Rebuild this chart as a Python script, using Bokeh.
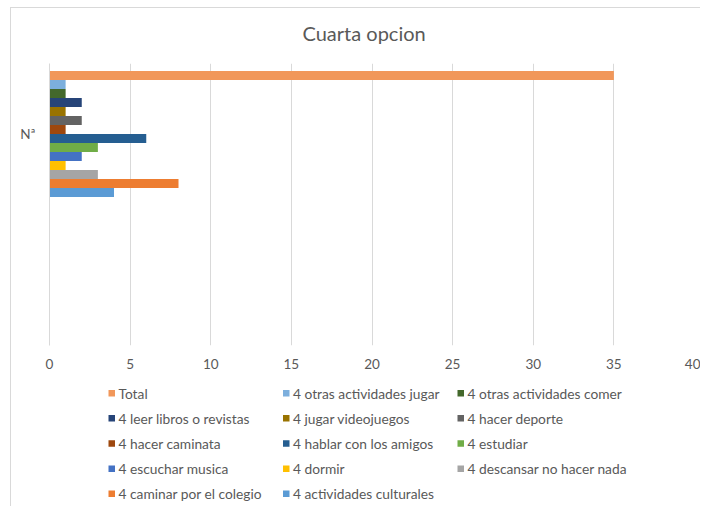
from bokeh.plotting import figure
from bokeh.layouts import column
from bokeh.models import (ColumnDataSource, FixedTicker, Range1d, Title)
from bokeh.core.properties import value
from bokeh.embed import file_html
from bokeh.resources import INLINE

# ---- data ----
series = ["Total", "4 otras actividades jugar", "4 otras actividades comer",
          "4 leer libros o revistas", "4 jugar videojuegos", "4 hacer deporte",
          "4 hacer caminata", "4 hablar con los amigos", "4 estudiar",
          "4 escuchar musica", "4 dormir", "4 descansar no hacer nada",
          "4 caminar por el colegio", "4 actividades culturales"]
values = [35, 1, 1, 2, 1, 2, 1, 6, 3, 2, 1, 3, 8, 4]
colors = ["#F1975A", "#7CAFDD", "#43682B", "#264478", "#997300", "#636363",
          "#9E480E", "#255E91", "#70AD47", "#4472C4", "#FFC000", "#A5A5A5",
          "#ED7D31", "#5B9BD5"]
category = "Nª"
x_ticks = [0, 5, 10, 15, 20, 25, 30, 35, 40]

FONT = "Lato"
TXT = "#595959"
GRID = "#D9D9D9"

W = 689
BL, BR = 38, 6            # left / right borders around the plot frame
n = len(series)
cat_center = 1.5          # first of two category bands (second one empty)
band_fill = 0.894         # share of the band covered by the bars
bh = band_fill / n
y_pos = [cat_center + band_fill / 2 - (i + 0.5) * bh for i in range(n)]

p = figure(width=W, height=367, output_backend="svg", toolbar_location=None,
           x_range=Range1d(0, 40), y_range=Range1d(0, 2),
           min_border_left=BL, min_border_right=BR, min_border_top=55,
           min_border_bottom=30)
p.outline_line_color = None
p.background_fill_color = "white"
p.border_fill_color = "white"

# spacer between the title and the plot frame
p.add_layout(Title(text=" ", text_font_size="1px", standoff=16), "above")
title = Title(text="Cuarta opcion", align="left", offset=253, text_font=FONT,
              text_font_size="20px", text_color=TXT, text_font_style="normal",
              standoff=0)
p.add_layout(title, "above")

for i in range(n):
    src = ColumnDataSource(dict(y=[y_pos[i]], right=[values[i]], left=[0]))
    p.hbar(y="y", right="right", left="left", height=bh, source=src,
           fill_color=colors[i], line_color=None)

p.xaxis.ticker = FixedTicker(ticks=x_ticks)
p.xaxis.axis_line_color = None
p.xaxis.major_tick_line_color = None
p.xaxis.minor_tick_line_color = None
p.xaxis.major_label_text_font = FONT
p.xaxis.major_label_text_font_size = "13.5px"
p.xaxis.major_label_text_color = TXT
p.xaxis.major_label_standoff = 7

p.yaxis.ticker = FixedTicker(ticks=[cat_center])
p.yaxis.major_label_overrides = {cat_center: category}
p.yaxis.axis_line_color = GRID
p.yaxis.major_tick_line_color = None
p.yaxis.minor_tick_line_color = None
p.yaxis.major_label_text_font = FONT
p.yaxis.major_label_text_font_size = "13.5px"
p.yaxis.major_label_text_color = TXT
p.yaxis.major_label_standoff = 8

p.xgrid.ticker = FixedTicker(ticks=x_ticks)
p.xgrid.grid_line_color = GRID
p.ygrid.grid_line_color = None

# ---- legend (3 columns, row-major), drawn in its own small figure ----
# its frame is aligned with the chart frame; x/y are in pixels of this panel
LH = 131
lg = figure(width=W, height=LH, output_backend="svg", toolbar_location=None,
            x_range=Range1d(BL, W - BR), y_range=Range1d(LH, 0),
            x_axis_location=None, y_axis_location=None,
            min_border_left=BL, min_border_right=BR,
            min_border_top=0, min_border_bottom=0)
lg.grid.visible = False
lg.outline_line_color = None
lg.border_fill_color = "white"

col_x = [97, 271.5, 446]
row_y0, row_dy = 17.7, 25.15
mk = 6.5
lx = [col_x[i % 3] + mk / 2 for i in range(n)]
ly = [row_y0 + (i // 3) * row_dy for i in range(n)]
tx = [col_x[i % 3] + mk + 3.5 for i in range(n)]
lsrc = ColumnDataSource(dict(x=lx, y=ly, tx=tx, label=series, color=colors))
lg.rect(x="x", y="y", width=mk, height=mk, fill_color="color",
        line_color=None, source=lsrc)
lg.text(x="tx", y="y", text="label", source=lsrc, text_font=value(FONT),
        text_font_size="13.75px", text_color=TXT, text_baseline="middle",
        text_align="left")

layout = column(p, lg, spacing=0,
                styles={"margin-left": "10px", "margin-top": "7px",
                        "border-left": f"1px solid {GRID}",
                        "border-top": f"1px solid {GRID}"})

open("out.html", "w").write(file_html(layout, INLINE))
